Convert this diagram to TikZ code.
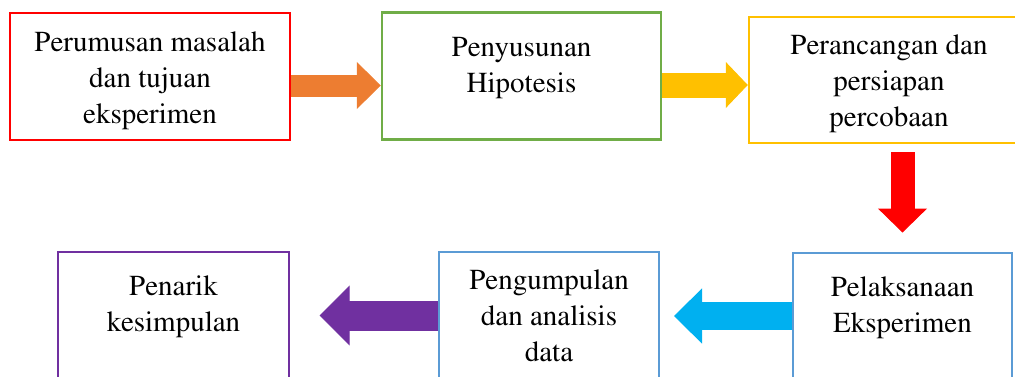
\documentclass[tikz,border=0pt]{standalone}
\usepackage[T1]{fontenc}
\renewcommand{\rmdefault}{ptm}
\usetikzlibrary{arrows.meta, positioning, calc}

\definecolor{cRed}{HTML}{FF0000}
\definecolor{cGreen}{HTML}{70AD47}
\definecolor{cGold}{HTML}{FFC000}
\definecolor{cOrange}{HTML}{ED7D31}
\definecolor{cBlue}{HTML}{5B9BD5}
\definecolor{cCyan}{HTML}{00B0F0}
\definecolor{cPurple}{HTML}{7030A0}

\begin{document}
\begin{tikzpicture}[
    x=1pt, y=-1pt,
    box/.style={draw, line width=2.5pt, minimum height=127pt, inner sep=0pt},
    txt/.style={align=center, anchor=north, inner sep=0pt,
                font=\fontsize{29pt}{36pt}\selectfont},
    blk/.style n args={4}{#1, line width=#2pt,
                -{Triangle[length=#3pt, width=#4pt, line width=1pt]}}
  ]

    %% ═══════ FRAME (pixel grid of the page) ═══════
    \path[use as bounding box] (0,0) rectangle (1015,376);
    \clip (0,0) rectangle (1015,376);

    %% ── top row ──
    \node[box, draw=cRed,   minimum width=280pt] (masalah)  at (150,76.5) {};
    \node[box, draw=cGreen, minimum width=279pt] (hipotesis) at (521.5,76) {};
    \node[box, draw=cGold,  minimum width=280pt, minimum height=126pt] (rancang) at (889,80) {};

    \node[txt] (tMasalah)   at ([yshift=-20pt]masalah.north)   {Perumusan masalah\\dan tujuan\\eksperimen};
    \node[txt] (tHipotesis) at ([yshift=-26pt]hipotesis.north) {Penyusunan\\Hipotesis};
    \node[txt] (tRancang)   at ([yshift=-19pt]rancang.north)   {Perancangan dan\\persiapan\\percobaan};

    %% ── bottom row (boxes run past the lower edge) ──
    \node[box, draw=cBlue, line width=2pt, minimum width=219pt] (laksana) at (902.5,316) {};
    \node[box, draw=cBlue, line width=2pt, minimum width=220pt] (kumpul)  at (549,315.5) {};
    \node[box, draw=cPurple, line width=1.2pt, minimum width=231pt] (simpul) at (173.5,315.5) {};

    \node[txt] (tLaksana) at ([yshift=-25pt]laksana.north) {Pelaksanaan\\Eksperimen};
    \node[txt] (tKumpul)  at ([yshift=-19pt]kumpul.north)  {Pengumpulan\\dan analisis\\data};
    \node[txt] (tSimpul)  at ([yshift=-24pt]simpul.north)  {Penarik\\kesimpulan};

    %% ═══════ BLOCK ARROWS ═══════
    \draw[blk={cOrange}{22}{24}{47}] ([yshift=-9pt]masalah.east)
      -- ([yshift=-9pt]masalah.east -| hipotesis.west);
    \draw[blk={cGold}{25}{22}{46}] ([yshift=-9pt]hipotesis.east)
      -- ([yshift=-9pt]hipotesis.east -| rancang.west);
    \draw[blk={cRed}{24}{24}{49}] ($(rancang.south -| laksana.north)+(0pt,-8pt)$)
      -- ($(laksana.north)+(0pt,19pt)$);
    \draw[blk={cCyan}{28}{28}{55}] (laksana.west) -- ($(laksana.west -| kumpul.east)+(14pt,0pt)$);
    \draw[blk={cPurple}{30}{30}{60}] (kumpul.west) -- ($(kumpul.west -| simpul.east)+(30pt,0pt)$);

\end{tikzpicture}
\end{document}
